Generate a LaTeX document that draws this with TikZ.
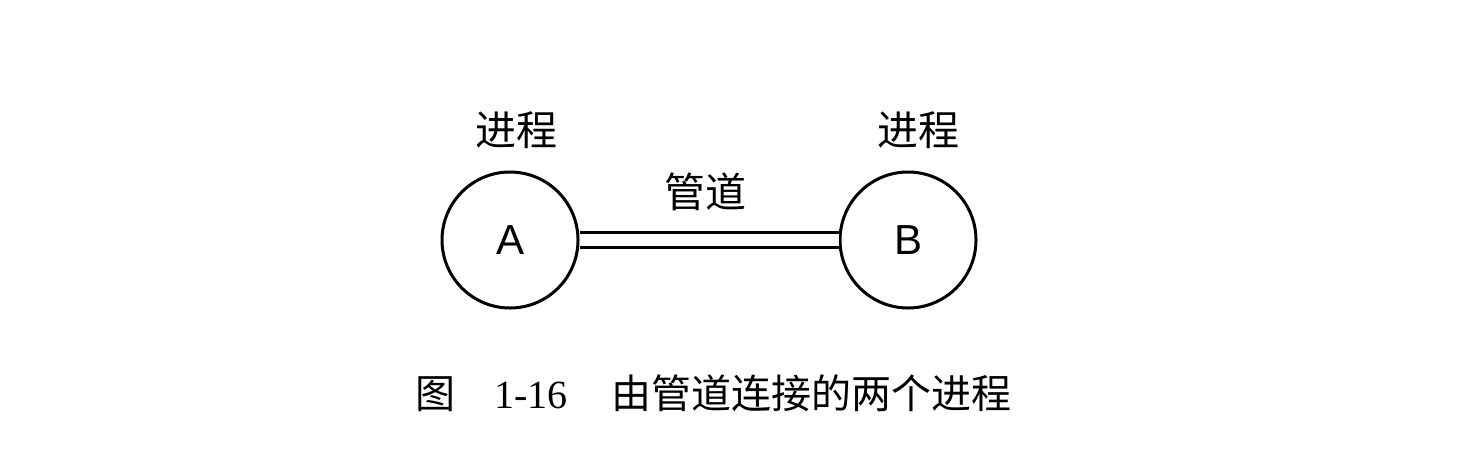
\documentclass[tikz,border=0pt]{standalone}
\usepackage{fontspec}
\setmainfont{Liberation Serif}
\newfontfamily\cjk{Noto Sans CJK SC}
\newfontfamily\lettersf{Liberation Sans}
\tikzset{
  process/.style={draw, circle, line width=1.5pt, minimum size=68pt, inner sep=0pt, font=\lettersf\fontsize{21}{21}\selectfont},
  proclabel/.style={font=\cjk\fontsize{20.5}{20.5}\selectfont},
  pipe/.style={line width=1.7pt, double, double distance=5.8pt}
}

\begin{document}
\begin{tikzpicture}[x=0.5pt, y=-0.5pt]
			%%%%% START %%%%%
			
			\useasboundingbox (0, 0) rectangle (1476, 456);
			
			\node[process] (procA) at (510, 240) {A};
			\node[process] (procB) at (908, 240) {B};
			
			\node[proclabel] (labelA) at (516, 130) {进程};
			\node[proclabel] (labelB) at (918, 130) {进程};
			\node[proclabel] (pipelabel) at (705, 192) {管道};
			
			\draw[pipe] (procA.east) -- (procB.west);
			
			\node[anchor=west, inner sep=0pt] (caption) at (415, 393) {\fontsize{20}{20}\selectfont{\cjk 图}\hspace{19.5pt}1-16\hspace{22pt}{\cjk 由管道连接的两个进程}};
			
			%%%%% END %%%%%
		\end{tikzpicture}
\end{document}
